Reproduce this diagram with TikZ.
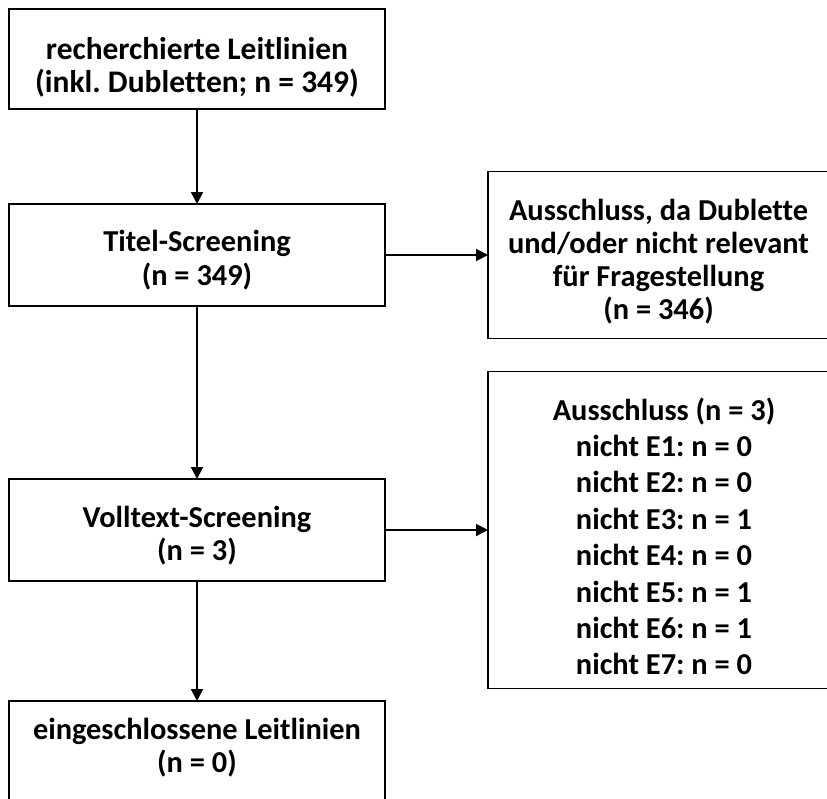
\documentclass[tikz,border=0pt]{standalone}
\usepackage{fontspec}
\setmainfont{Carlito}[Ligatures=NoCommon]
\frenchspacing
\usetikzlibrary{arrows.meta,positioning}
% struts to set the text a little lower or higher in a box
\newcommand{\topgap}[1]{\rule{0pt}{#1}}
\newcommand{\bottomgap}[1]{\rule[-#1]{0pt}{0pt}}
\tikzset{
    %Define standard arrow tip
    >={Triangle[length=0.24cm,width=0.24cm]},
    %Define style for boxes
    stage/.style={
           rectangle,
           draw=black, line width=0.03cm,
           minimum width=7.52cm,
           minimum height=2.04cm,
           inner sep=0pt, outer sep=0pt,
           align=center,
           font=\fontsize{17.3}{18.8}\selectfont\bfseries},
    exclusion/.style={
           stage,
           minimum width=6.82cm,
           minimum height=3.34cm},
    % Define arrow style
    flow/.style={
           ->,
           line width=0.04cm}
}

\begin{document}
\begin{tikzpicture}
\useasboundingbox (0,0) rectangle (16.54,-15.96);
\node[stage, minimum height=2cm, font=\fontsize{17.9}{18.8}\selectfont\bfseries] (search) at (3.94,-1.18)
  {\topgap{22pt}recherchierte Leitlinien\\(inkl. Dubletten; n = 349)};
\node[stage, below=1.9cm of search] (title) {\topgap{18pt}Titel-Screening\\(n = 349)};
\node[stage, below=3.46cm of title] (fulltext) {\topgap{19pt}Volltext-Screening\\(n = 3)};
\node[stage, minimum height=2cm, below=2.4cm of fulltext] (included)
  {eingeschlossene Leitlinien\\(n = 0)\bottomgap{6pt}};
\node[exclusion, right=2.06cm of title] (excl1)
  {\topgap{20pt}Ausschluss, da Dublette\\und/oder nicht relevant\\für Fragestellung\\(n = 346)};
\node[exclusion, minimum width=7.04cm, minimum height=6.34cm,
  font=\fontsize{17.3}{20.7}\selectfont\bfseries, right=2.06cm of fulltext] (excl2)
  {\topgap{20pt}Ausschluss (n = 3)\\nicht E1: n = 0\\nicht E2: n = 0\\nicht E3: n = 1\\nicht E4: n = 0\\nicht E5: n = 1\\nicht E6: n = 1\\nicht E7: n = 0};
 \path[flow]
    (search) edge (title)
    (title) edge (fulltext)
    (fulltext) edge (included)
    (title) edge (excl1)
    (fulltext) edge (excl2);
\end{tikzpicture}
\end{document}
